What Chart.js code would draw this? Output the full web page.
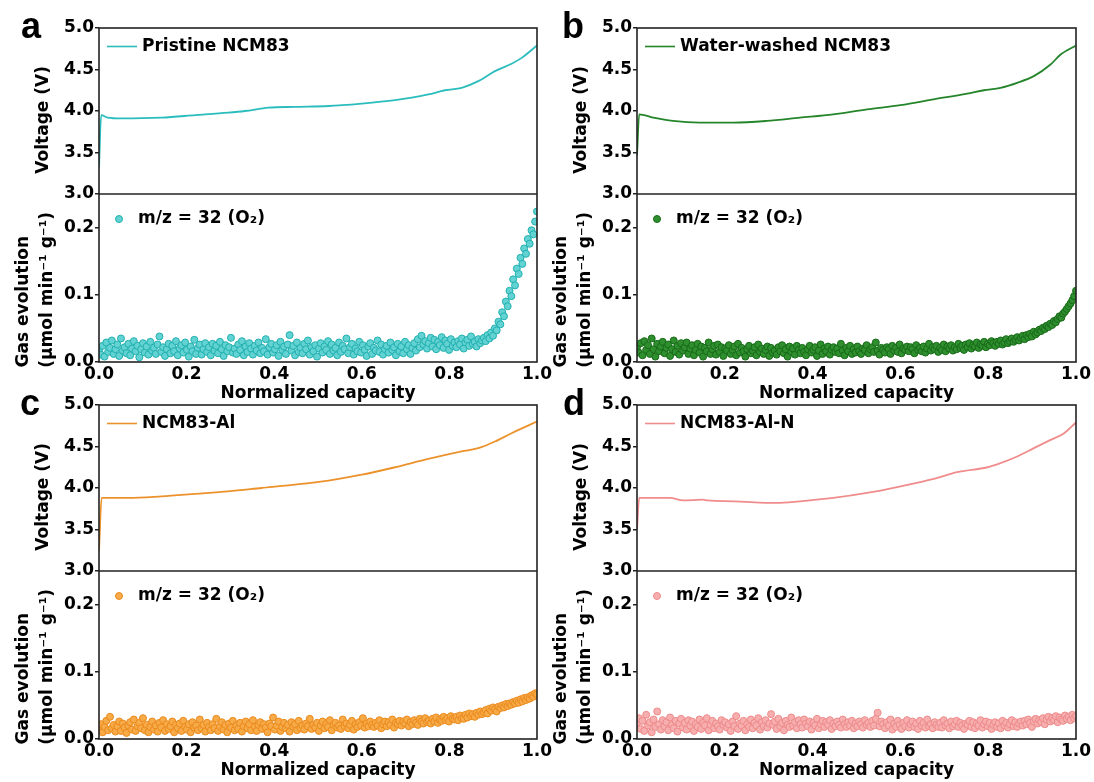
<!DOCTYPE html>
<html lang="en">
<head>
<meta charset="UTF-8">
<title>Voltage profiles and O2 evolution</title>
<script src="https://cdn.jsdelivr.net/npm/chart.js"></script>
<style>
    body {
        margin: 0;
        background: #fff;
    }
    #figure {
        position: relative;
        width: 1094px;
        height: 782px;
        overflow: hidden;
    }
    #figure canvas {
        position: absolute;
    }
    .tag {
        position: absolute;
        font: bold 36px "Liberation Sans", Arial, sans-serif;
        line-height: 1;
        color: #000;
    }
</style>
</head>
<body>
<div id="figure">
    <canvas id="panelA" width="560" height="405" style="left:0;top:0"></canvas>
    <canvas id="panelB" width="556" height="405" style="left:538px;top:0"></canvas>
    <canvas id="panelC" width="560" height="405" style="left:0;top:377px"></canvas>
    <canvas id="panelD" width="556" height="405" style="left:538px;top:377px"></canvas>
    <span class="tag" style="left:21px;top:8px">a</span>
    <span class="tag" style="left:562px;top:8px">b</span>
    <span class="tag" style="left:20px;top:385px">c</span>
    <span class="tag" style="left:563px;top:385px">d</span>
</div>

<script>
    // Charge curves: normalized capacity vs voltage (V)
    const capA  = [0, 0.005, 0.02, 0.05, 0.143, 0.22, 0.295, 0.333, 0.387, 0.447, 0.524, 0.6, 0.676, 0.714, 0.752, 0.79, 0.828, 0.866, 0.904, 0.942, 0.965, 1.0];
    const voltA = [3.32, 3.95, 3.92, 3.91, 3.92, 3.95, 3.98, 4.00, 4.04, 4.05, 4.06, 4.09, 4.13, 4.16, 4.20, 4.25, 4.28, 4.36, 4.48, 4.57, 4.64, 4.79];

    const capB  = [0, 0.005, 0.037, 0.082, 0.143, 0.22, 0.295, 0.371, 0.447, 0.524, 0.6, 0.676, 0.752, 0.79, 0.828, 0.866, 0.904, 0.942, 0.965, 1.0];
    const voltB = [3.46, 3.96, 3.92, 3.88, 3.86, 3.86, 3.88, 3.92, 3.96, 4.02, 4.07, 4.14, 4.21, 4.25, 4.28, 4.34, 4.42, 4.56, 4.68, 4.79];

    const capC  = [0, 0.006, 0.067, 0.143, 0.22, 0.295, 0.371, 0.447, 0.524, 0.6, 0.676, 0.752, 0.828, 0.866, 0.904, 0.942, 1.0];
    const voltC = [3.24, 3.88, 3.88, 3.90, 3.93, 3.96, 4.00, 4.04, 4.09, 4.16, 4.25, 4.35, 4.44, 4.48, 4.56, 4.66, 4.80];

    const capD  = [0, 0.005, 0.075, 0.105, 0.15, 0.16, 0.22, 0.318, 0.371, 0.447, 0.524, 0.6, 0.676, 0.729, 0.798, 0.828, 0.866, 0.904, 0.942, 0.973, 1.0];
    const voltD = [3.50, 3.88, 3.88, 3.85, 3.86, 3.85, 3.84, 3.82, 3.84, 3.88, 3.94, 4.02, 4.11, 4.19, 4.25, 4.30, 4.38, 4.48, 4.58, 4.66, 4.79];

    // O2 (m/z = 32) signal, umol min-1 g-1, 240 readings evenly spaced over 0..1 capacity
    const gasA = [
        0.018, 0.011, 0.024, 0.008, 0.029, 0.015, 0.021, 0.032, 0.012, 0.019, 0.026, 0.009, 0.035, 0.017, 0.022,
        0.013, 0.027, 0.010, 0.020, 0.031, 0.016, 0.024, 0.007, 0.019, 0.028, 0.014, 0.023, 0.011, 0.030, 0.017,
        0.021, 0.012, 0.026, 0.038, 0.015, 0.022, 0.009, 0.019, 0.027, 0.013, 0.024, 0.016, 0.031, 0.010, 0.020,
        0.025, 0.014, 0.029, 0.018, 0.008, 0.023, 0.016, 0.033, 0.012, 0.021, 0.026, 0.011, 0.019, 0.028, 0.015,
        0.022, 0.010, 0.027, 0.017, 0.024, 0.013, 0.030, 0.019, 0.009, 0.025, 0.016, 0.022, 0.036, 0.014, 0.020,
        0.012, 0.026, 0.018, 0.031, 0.010, 0.023, 0.015, 0.028, 0.020, 0.011, 0.024, 0.017, 0.029, 0.013, 0.021,
        0.016, 0.034, 0.011, 0.022, 0.027, 0.014, 0.019, 0.025, 0.009, 0.030, 0.018, 0.023, 0.012, 0.026, 0.040,
        0.017, 0.024, 0.010, 0.029, 0.015, 0.021, 0.013, 0.027, 0.019, 0.032, 0.011, 0.022, 0.016, 0.025, 0.008,
        0.020, 0.028, 0.014, 0.023, 0.018, 0.031, 0.012, 0.026, 0.017, 0.021, 0.010, 0.029, 0.015, 0.024, 0.019,
        0.035, 0.013, 0.022, 0.027, 0.011, 0.020, 0.016, 0.030, 0.014, 0.025, 0.018, 0.009, 0.023, 0.028, 0.012,
        0.021, 0.017, 0.032, 0.015, 0.026, 0.011, 0.019, 0.024, 0.014, 0.029, 0.018, 0.022, 0.010, 0.027, 0.016,
        0.023, 0.013, 0.030, 0.019, 0.025, 0.012, 0.021, 0.028, 0.017, 0.034, 0.022, 0.039, 0.026, 0.031, 0.020,
        0.028, 0.036, 0.023, 0.033, 0.019, 0.030, 0.025, 0.037, 0.021, 0.032, 0.027, 0.018, 0.034, 0.024, 0.029,
        0.022, 0.031, 0.026, 0.035, 0.020, 0.029, 0.033, 0.024, 0.038, 0.027, 0.030, 0.023, 0.034, 0.028, 0.032,
        0.036, 0.031, 0.040, 0.035, 0.044, 0.039, 0.050, 0.047, 0.060, 0.056, 0.074, 0.068, 0.090, 0.083, 0.106,
        0.098, 0.123, 0.114, 0.139, 0.131, 0.155, 0.146, 0.169, 0.161, 0.183, 0.176, 0.196, 0.190, 0.209, 0.224
    ];
    const gasB = [
        0.022, 0.014, 0.028, 0.010, 0.031, 0.018, 0.025, 0.012, 0.035, 0.019, 0.008, 0.027, 0.016, 0.023, 0.030,
        0.013, 0.021, 0.026, 0.009, 0.019, 0.032, 0.015, 0.024, 0.011, 0.028, 0.017, 0.022, 0.029, 0.012, 0.020,
        0.025, 0.010, 0.018, 0.027, 0.014, 0.023, 0.008, 0.021, 0.016, 0.029, 0.012, 0.019, 0.024, 0.011, 0.026,
        0.015, 0.022, 0.009, 0.020, 0.017, 0.025, 0.012, 0.018, 0.023, 0.010, 0.027, 0.014, 0.021, 0.016, 0.008,
        0.019, 0.024, 0.013, 0.017, 0.022, 0.010, 0.026, 0.015, 0.020, 0.012, 0.018, 0.023, 0.009, 0.021, 0.014,
        0.017, 0.011, 0.022, 0.016, 0.025, 0.013, 0.019, 0.008, 0.023, 0.015, 0.020, 0.011, 0.024, 0.018, 0.013,
        0.021, 0.015, 0.010, 0.019, 0.024, 0.014, 0.018, 0.022, 0.009, 0.017, 0.026, 0.012, 0.020, 0.016, 0.023,
        0.011, 0.018, 0.022, 0.015, 0.020, 0.013, 0.027, 0.017, 0.010, 0.021, 0.016, 0.024, 0.012, 0.019, 0.014,
        0.023, 0.016, 0.012, 0.020, 0.018, 0.025, 0.013, 0.019, 0.022, 0.015, 0.029, 0.017, 0.011, 0.021, 0.018,
        0.014, 0.022, 0.019, 0.012, 0.024, 0.017, 0.021, 0.015, 0.026, 0.013, 0.020, 0.018, 0.023, 0.016, 0.022,
        0.019, 0.013, 0.025, 0.018, 0.021, 0.016, 0.023, 0.014, 0.020, 0.027, 0.017, 0.022, 0.019, 0.024, 0.015,
        0.021, 0.018, 0.026, 0.016, 0.023, 0.020, 0.025, 0.017, 0.022, 0.019, 0.027, 0.021, 0.024, 0.018, 0.026,
        0.022, 0.028, 0.020, 0.025, 0.023, 0.029, 0.021, 0.026, 0.024, 0.030, 0.022, 0.027, 0.025, 0.031, 0.028,
        0.024, 0.030, 0.027, 0.032, 0.026, 0.029, 0.034, 0.028, 0.031, 0.035, 0.030, 0.033, 0.037, 0.032, 0.036,
        0.039, 0.034, 0.040, 0.037, 0.042, 0.038, 0.045, 0.041, 0.044, 0.048, 0.046, 0.051, 0.049, 0.054, 0.052,
        0.057, 0.055, 0.061, 0.059, 0.064, 0.068, 0.066, 0.072, 0.075, 0.079, 0.083, 0.087, 0.092, 0.098, 0.106
    ];
    const gasC = [
        0.015, 0.022, 0.010, 0.018, 0.027, 0.013, 0.033, 0.016, 0.021, 0.011, 0.019, 0.026, 0.012, 0.023, 0.017,
        0.009, 0.020, 0.025, 0.014, 0.029, 0.012, 0.019, 0.024, 0.016, 0.031, 0.013, 0.021, 0.010, 0.018, 0.026,
        0.014, 0.020, 0.011, 0.024, 0.017, 0.028, 0.012, 0.022, 0.015, 0.019, 0.026, 0.010, 0.021, 0.016, 0.023,
        0.012, 0.027, 0.018, 0.014, 0.022, 0.010, 0.025, 0.017, 0.020, 0.013, 0.029, 0.016, 0.021, 0.011, 0.024,
        0.018, 0.013, 0.022, 0.016, 0.030, 0.012, 0.019, 0.025, 0.014, 0.021, 0.010, 0.023, 0.017, 0.027, 0.013,
        0.020, 0.015, 0.024, 0.011, 0.019, 0.026, 0.016, 0.022, 0.013, 0.028, 0.018, 0.012, 0.021, 0.025, 0.015,
        0.022, 0.017, 0.010, 0.023, 0.019, 0.032, 0.014, 0.020, 0.026, 0.012, 0.018, 0.024, 0.016, 0.021, 0.011,
        0.025, 0.018, 0.022, 0.013, 0.027, 0.016, 0.020, 0.014, 0.023, 0.019, 0.030, 0.015, 0.021, 0.017, 0.024,
        0.012, 0.020, 0.026, 0.016, 0.022, 0.018, 0.028, 0.013, 0.021, 0.024, 0.017, 0.020, 0.015, 0.029, 0.019,
        0.023, 0.016, 0.021, 0.027, 0.014, 0.022, 0.018, 0.025, 0.020, 0.031, 0.017, 0.023, 0.019, 0.026, 0.021,
        0.018, 0.024, 0.020, 0.028, 0.016, 0.022, 0.026, 0.019, 0.025, 0.021, 0.029, 0.017, 0.024, 0.022, 0.027,
        0.020, 0.026, 0.023, 0.029, 0.019, 0.025, 0.022, 0.028, 0.024, 0.021, 0.030, 0.026, 0.023, 0.031, 0.025,
        0.027, 0.023, 0.030, 0.026, 0.032, 0.024, 0.029, 0.027, 0.033, 0.028, 0.031, 0.026, 0.034, 0.030, 0.029,
        0.033, 0.028, 0.035, 0.031, 0.030, 0.036, 0.032, 0.038, 0.034, 0.037, 0.033, 0.039, 0.036, 0.041, 0.037,
        0.040, 0.043, 0.038, 0.045, 0.042, 0.047, 0.044, 0.041, 0.048, 0.046, 0.050, 0.047, 0.052, 0.049, 0.053,
        0.051, 0.055, 0.053, 0.057, 0.054, 0.059, 0.056, 0.061, 0.058, 0.062, 0.060, 0.065, 0.063, 0.068, 0.066
    ];
    const gasD = [
        0.024, 0.031, 0.015, 0.027, 0.012, 0.036, 0.020, 0.025, 0.010, 0.029, 0.018, 0.041, 0.022, 0.014, 0.028,
        0.019, 0.025, 0.013, 0.032, 0.021, 0.016, 0.027, 0.011, 0.023, 0.030, 0.017, 0.024, 0.014, 0.028, 0.020,
        0.026, 0.012, 0.022, 0.018, 0.029, 0.015, 0.024, 0.020, 0.031, 0.013, 0.021, 0.027, 0.016, 0.023, 0.019,
        0.014, 0.028, 0.021, 0.025, 0.017, 0.022, 0.012, 0.026, 0.019, 0.034, 0.015, 0.023, 0.020, 0.027, 0.013,
        0.022, 0.018, 0.029, 0.016, 0.024, 0.020, 0.031, 0.014, 0.025, 0.019, 0.028, 0.017, 0.023, 0.037, 0.021,
        0.026, 0.015, 0.030, 0.019, 0.024, 0.013, 0.027, 0.021, 0.018, 0.032, 0.020, 0.025, 0.016, 0.028, 0.022,
        0.017, 0.029, 0.023, 0.019, 0.026, 0.014, 0.024, 0.020, 0.030, 0.016, 0.022, 0.027, 0.018, 0.025, 0.021,
        0.028, 0.015, 0.023, 0.019, 0.026, 0.021, 0.017, 0.029, 0.022, 0.018, 0.025, 0.020, 0.027, 0.016, 0.023,
        0.019, 0.026, 0.022, 0.017, 0.028, 0.021, 0.024, 0.018, 0.027, 0.020, 0.030, 0.039, 0.019, 0.026, 0.022,
        0.016, 0.025, 0.020, 0.029, 0.014, 0.023, 0.018, 0.027, 0.021, 0.015, 0.024, 0.019, 0.028, 0.017, 0.022,
        0.026, 0.018, 0.023, 0.015, 0.027, 0.020, 0.024, 0.017, 0.029, 0.019, 0.022, 0.016, 0.025, 0.021, 0.018,
        0.024, 0.017, 0.028, 0.020, 0.023, 0.016, 0.026, 0.019, 0.022, 0.027, 0.018, 0.024, 0.020, 0.015, 0.023,
        0.021, 0.027, 0.018, 0.025, 0.016, 0.023, 0.020, 0.028, 0.017, 0.022, 0.026, 0.019, 0.024, 0.015, 0.021,
        0.025, 0.018, 0.023, 0.016, 0.027, 0.020, 0.024, 0.017, 0.022, 0.028, 0.019, 0.025, 0.018, 0.023, 0.026,
        0.020, 0.027, 0.022, 0.029, 0.024, 0.018, 0.026, 0.030, 0.023, 0.028, 0.025, 0.031, 0.022, 0.029, 0.033,
        0.026, 0.031, 0.028, 0.034, 0.025, 0.032, 0.029, 0.027, 0.035, 0.030, 0.033, 0.028, 0.036, 0.031, 0.034
    ];

    const gasLabel = 'm/z = 32 (O\u2082)';
    const font17 = { family: 'DejaVu Sans', size: 17, weight: 'bold' };
    const nb = n => '\u00a0'.repeat(n);   // pads rotated titles so they sit a bit lower

    function curvePoints(cap, volt) {
        return cap.map((c, i) => ({ x: c, y: volt[i] }));
    }
    function gasPoints(vals) {
        return vals.map((v, i) => ({ x: i / (vals.length - 1), y: v }));
    }

    // Box around both plots, the divider, and the in-plot legend entries
    const panelFrame = {
        id: 'panelFrame',
        afterDatasetsDraw(chart) {
            const { ctx, chartArea: a, scales } = chart;
            const [curve, gas] = chart.data.datasets;
            ctx.save();
            ctx.strokeStyle = '#222';
            ctx.lineWidth = 1.6;
            ctx.strokeRect(a.left, a.top, a.right - a.left, a.bottom - a.top);
            ctx.beginPath();
            ctx.moveTo(a.left, scales.yV.bottom);
            ctx.lineTo(a.right, scales.yV.bottom);
            ctx.stroke();

            ctx.font = 'bold 17px "DejaVu Sans"';
            ctx.textBaseline = 'middle';

            let y = scales.yV.top + 18.5;
            ctx.strokeStyle = curve.borderColor;
            ctx.lineWidth = 1.6;
            ctx.beginPath();
            ctx.moveTo(a.left + 8, y);
            ctx.lineTo(a.left + 38, y);
            ctx.stroke();
            ctx.fillStyle = '#000';
            ctx.fillText(curve.label, a.left + 43, y);

            y = scales.yG.top + 25;
            ctx.beginPath();
            ctx.arc(a.left + 20, y, 3.5, 0, Math.PI * 2);
            ctx.fillStyle = gas.backgroundColor;
            ctx.fill();
            ctx.strokeStyle = gas.borderColor;
            ctx.lineWidth = 1;
            ctx.stroke();
            ctx.fillStyle = '#000';
            ctx.fillText(gas.label, a.left + 39, y);
            ctx.restore();
        }
    };

    function makePanel(canvasId, cap, volt, gas, name, lineColor, dotFill, dotEdge) {
        new Chart(document.getElementById(canvasId), {
            type: 'scatter',
            data: {
                datasets: [{
                    type: 'line',
                    label: name,
                    data: curvePoints(cap, volt),
                    yAxisID: 'yV',
                    borderColor: lineColor,
                    borderWidth: 1.8,
                    pointRadius: 0,
                    cubicInterpolationMode: 'monotone'
                }, {
                    label: gasLabel,
                    data: gasPoints(gas),
                    yAxisID: 'yG',
                    backgroundColor: dotFill,
                    borderColor: dotEdge,
                    borderWidth: 1,
                    pointRadius: 3.5
                }]
            },
            options: {
                responsive: false,
                animation: false,
                events: [],
                devicePixelRatio: 1,
                layout: { padding: { left: 0, top: 28, right: canvasId === 'panelA' || canvasId === 'panelC' ? 23 : 18, bottom: 0 } },
                plugins: { legend: { display: false }, tooltip: { enabled: false } },
                scales: {
                    x: {
                        type: 'linear',
                        position: 'bottom',
                        min: 0,
                        max: 1,
                        afterFit: s => { s.height = 43; },
                        border: { display: false },
                        grid: { display: false, drawTicks: false },
                        ticks: {
                            stepSize: 0.1,
                            padding: 2,
                            maxRotation: 0,
                            autoSkip: false,
                            color: '#000',
                            font: font17,
                            callback: v => Math.round(v * 10) % 2 === 0 ? v.toFixed(1) : ''
                        },
                        title: {
                            display: true,
                            text: 'Normalized capacity',
                            color: '#000',
                            font: font17,
                            padding: { top: 0, bottom: 1 }
                        }
                    },
                    // gas axis is listed first so the voltage axis stacks above it
                    yG: {
                        type: 'linear',
                        position: 'left',
                        stack: 'panel',
                        stackWeight: 168,
                        min: 0,
                        max: 0.25,
                        afterFit: s => { s.width = 99; },
                        border: { display: false },
                        grid: { drawOnChartArea: false, tickLength: 4, color: '#222', lineWidth: 1.5 },
                        ticks: {
                            stepSize: 0.05,
                            padding: 1,
                            color: '#000',
                            font: font17,
                            callback: v => Math.round(v * 100) % 10 === 0 ? v.toFixed(1) : ''
                        },
                        title: {
                            display: true,
                            text: ['Gas evolution' + nb(8), '(\u03bcmol min\u207b\u00b9 g\u207b\u00b9)' + nb(4)],
                            color: '#000',
                            font: { family: 'DejaVu Sans', size: 17, weight: 'bold', lineHeight: 1.4 },
                            padding: { top: 12, bottom: 0 }
                        }
                    },
                    yV: {
                        type: 'linear',
                        position: 'left',
                        stack: 'panel',
                        stackWeight: 166,
                        min: 3,
                        max: 5,
                        afterFit: s => { s.width = 99; },
                        border: { display: false },
                        grid: { drawOnChartArea: false, tickLength: 4, color: '#222', lineWidth: 1.5 },
                        ticks: {
                            stepSize: 0.25,
                            padding: 1,
                            color: '#000',
                            font: font17,
                            callback: v => v % 0.5 === 0 ? v.toFixed(1) : ''
                        },
                        title: {
                            display: true,
                            text: 'Voltage (V)' + nb(3),
                            color: '#000',
                            font: font17,
                            padding: { top: 33, bottom: 0 }
                        }
                    }
                }
            },
            plugins: [panelFrame]
        });
    }

    makePanel('panelA', capA, voltA, gasA, 'Pristine NCM83', '#2BBDBD', '#62D2D2', '#22B0B0');
    makePanel('panelB', capB, voltB, gasB, 'Water-washed NCM83', '#24852A', '#2F8F2F', '#176B17');
    makePanel('panelC', capC, voltC, gasC, 'NCM83-Al', '#EC922C', '#F6AA48', '#EC8A1C');
    makePanel('panelD', capD, voltD, gasD, 'NCM83-Al-N', '#F08C8C', '#F7AEAE', '#EE8A8A');
</script>
</body>
</html>
